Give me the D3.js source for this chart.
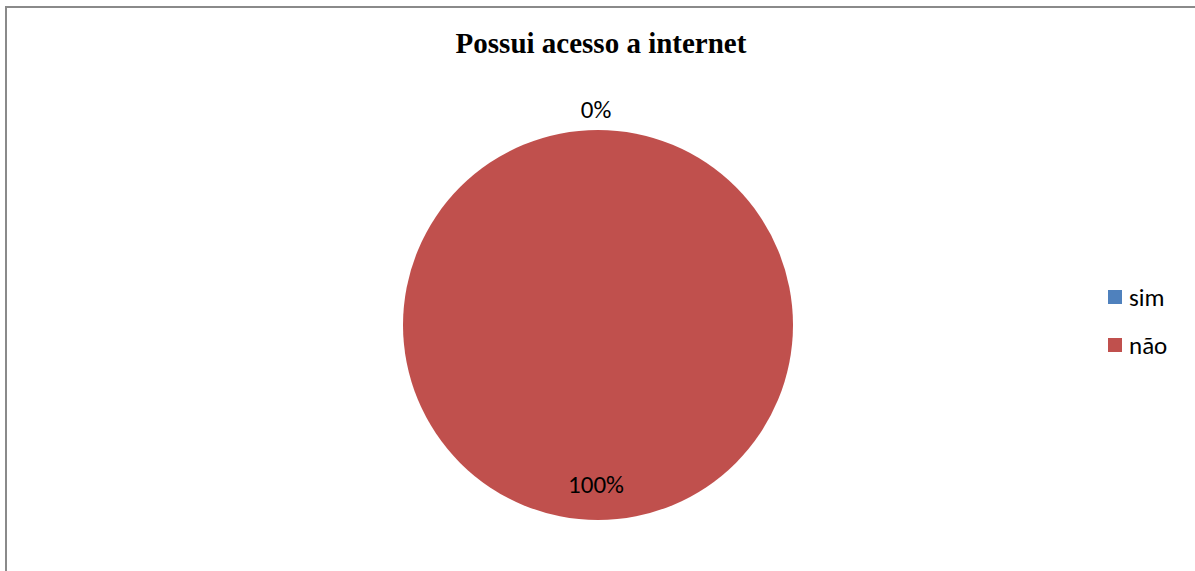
<!DOCTYPE html>
<html>
<head>
<meta charset="utf-8">
<script src="https://cdn.jsdelivr.net/npm/d3@7"></script>
<style>
  html, body { margin: 0; padding: 0; background: #fff; }
  svg { display: block; }
</style>
</head>
<body>
<svg id="chart" width="1195" height="571"></svg>
<script>
// Survey answers: does the respondent have internet access?
const categories = ["sim", "não"];
const values = [0, 100];
const colors = ["#4F81BD", "#C0504D"];
const title = "Possui acesso a internet";

const svg = d3.select("#chart");
const W = 1195, H = 571;

// Chart frame
svg.append("rect")
  .attr("x", 6).attr("y", 7)
  .attr("width", W + 10).attr("height", H + 10)
  .attr("fill", "#fff")
  .attr("stroke", "#8a8a8a").attr("stroke-width", 2);

svg.append("text")
  .attr("x", 601).attr("y", 53)
  .attr("text-anchor", "middle")
  .attr("font-family", "'Liberation Serif', 'Times New Roman', serif")
  .attr("font-weight", "bold")
  .attr("font-size", 29)
  .attr("fill", "#000")
  .text(title);

const cx = 598, cy = 325, r = 195;
const data = categories.map((c, i) => ({ cat: c, value: values[i], color: colors[i] }));
const total = d3.sum(values);

const pie = d3.pie().sort(null).value(d => d.value);
const arcs = pie(data);
const arc = d3.arc().innerRadius(0).outerRadius(r);

const g = svg.append("g").attr("transform", `translate(${cx},${cy})`);

g.selectAll("path.slice")
  .data(arcs)
  .join("path")
  .attr("class", "slice")
  .attr("d", arc)
  .attr("fill", d => d.data.color);

// Percent labels: zero-size slices sit just outside the rim, others inside
const fmt = d => Math.round(d.data.value / total * 100) + "%";
const labelFont = "Carlito, Lato, 'Open Sans', sans-serif";
g.selectAll("text.pct")
  .data(arcs)
  .join("text")
  .attr("class", "pct")
  .attr("text-anchor", "middle")
  .attr("font-family", labelFont)
  .attr("font-size", 25)
  .attr("fill", "#000")
  .each(function (d) {
    const mid = (d.startAngle + d.endAngle) / 2;
    const empty = d.endAngle - d.startAngle < 1e-6;
    const rr = empty ? r + 21 : r - 36;
    const x = Math.sin(mid) * rr;
    const y = -Math.cos(mid) * rr;
    d3.select(this)
      .attr("x", x - 2)
      .attr("y", y)
      .attr("dy", "0.35em");
  })
  .text(fmt);

// Legend
const legend = svg.append("g").attr("transform", "translate(1108,290)");
const items = legend.selectAll("g")
  .data(data)
  .join("g")
  .attr("transform", (d, i) => `translate(0,${i * 48})`);
items.append("rect")
  .attr("width", 14).attr("height", 14)
  .attr("fill", d => d.color);
items.append("text")
  .attr("x", 21).attr("y", 16)
  .attr("font-family", labelFont)
  .attr("font-size", 25)
  .attr("fill", "#000")
  .text(d => d.cat);
</script>
</body>
</html>
